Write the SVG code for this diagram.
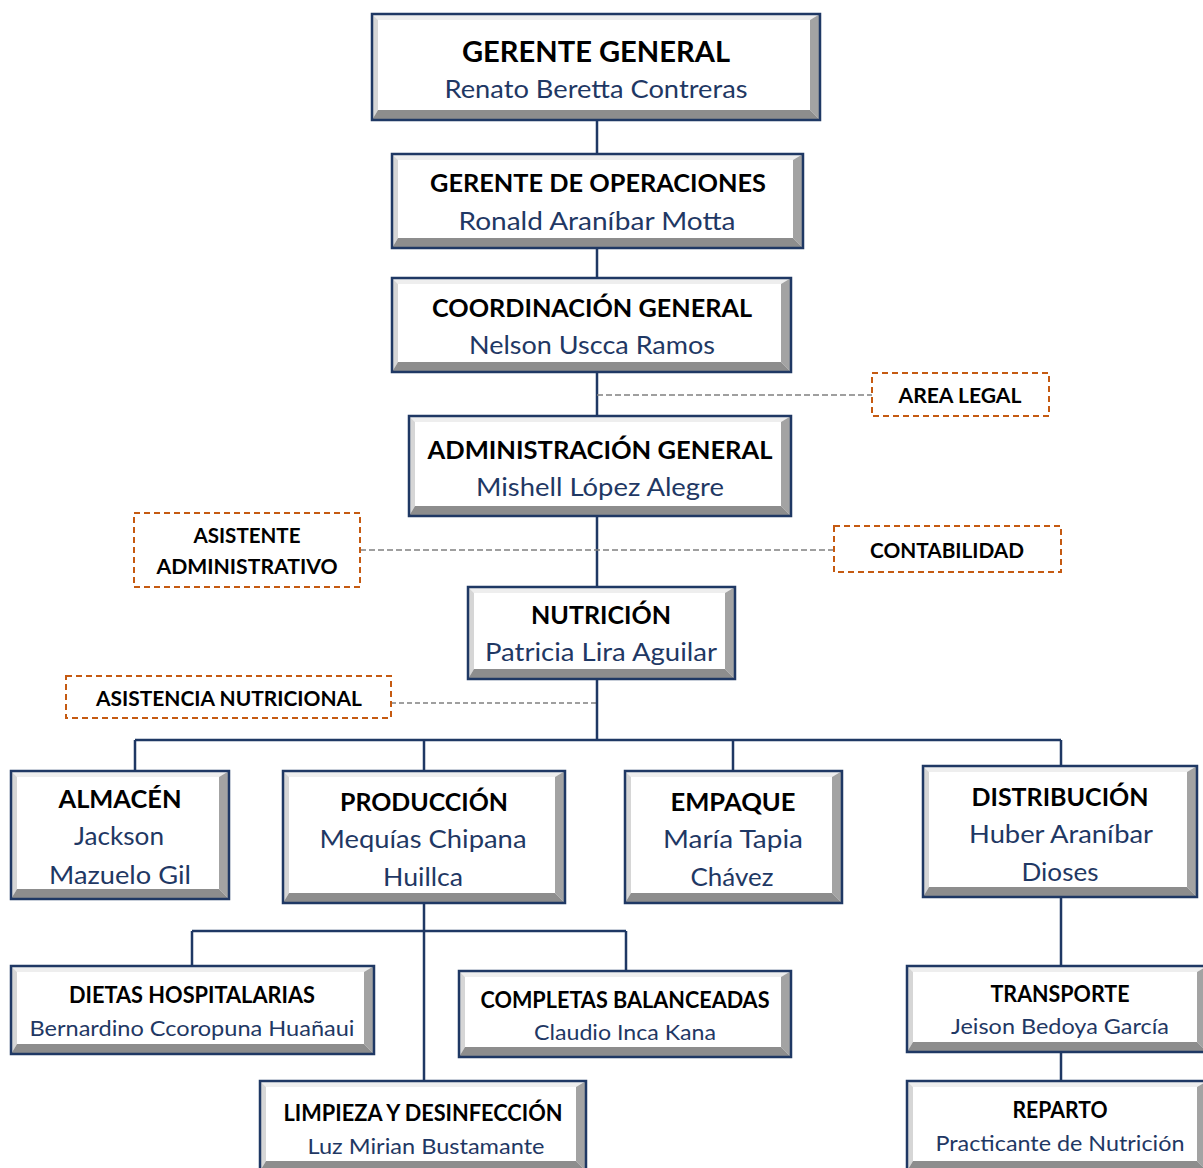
<svg xmlns="http://www.w3.org/2000/svg" width="1203" height="1168" viewBox="0 0 1203 1168">
<style>
.bg{fill:#ffffff}
.bt{fill:#eeeeee}
.bl{fill:#d6d6d6}
.br{fill:#a3a3a3}
.bb{fill:#8d8d8d}
.face{fill:#ffffff}
.frame{fill:none;stroke:#1F3864;stroke-width:2.5}
.dbox{fill:#ffffff;stroke:#C55A11;stroke-width:2;stroke-dasharray:6 4}
.line{fill:none;stroke:#1F3864;stroke-width:2.5}
.dash{fill:none;stroke:#808080;stroke-width:1.6;stroke-dasharray:6 3}
.dash2{fill:none;stroke:#404040;stroke-width:1.2;stroke-dasharray:5 3}
text{font-family:Lato,"Open Sans","Liberation Sans",sans-serif;text-anchor:middle}
.t{font-weight:bold;fill:#000000}
.s{fill:#1F3864}
</style>
<rect class="bg" x="0" y="0" width="1203" height="1168"/>
<g id="connectors">
<path class="line" d="M597 120V587M597 679V740M135 740H1061M135 740V771M424 740V771M733 740V771M1061 740V766M424 903V1081M192 931H626M192 931V966M626 931V971M1061 897V966M1061 1052V1081"/>
<path class="dash" d="M597 395H872M360 550H834"/>
<path class="dash2" d="M391 703H597"/>
</g>
<g id="gerente-general">
<polygon class="bt" points="372,14 820,14 810,20 378,20"/><polygon class="bl" points="372,14 378,20 378,110 372,120"/><polygon class="br" points="820,14 820,120 810,110 810,20"/><polygon class="bb" points="372,120 378,110 810,110 820,120"/><rect class="face" x="378" y="20" width="432" height="90"/><rect class="frame" x="372" y="14" width="448" height="106"/>
<text class="t" x="596" y="62" font-size="29" textLength="268" lengthAdjust="spacingAndGlyphs">GERENTE GENERAL</text>
<text class="s" x="596" y="98" font-size="25" textLength="303" lengthAdjust="spacingAndGlyphs">Renato Beretta Contreras</text>
</g>
<g id="gerente-operaciones">
<polygon class="bt" points="392,154 803,154 793,160 398,160"/><polygon class="bl" points="392,154 398,160 398,238 392,248"/><polygon class="br" points="803,154 803,248 793,238 793,160"/><polygon class="bb" points="392,248 398,238 793,238 803,248"/><rect class="face" x="398" y="160" width="395" height="78"/><rect class="frame" x="392" y="154" width="411" height="94"/>
<text class="t" x="598" y="192" font-size="25" textLength="336" lengthAdjust="spacingAndGlyphs">GERENTE DE OPERACIONES</text>
<text class="s" x="597" y="230" font-size="25" textLength="277" lengthAdjust="spacingAndGlyphs">Ronald Araníbar Motta</text>
</g>
<g id="coordinacion-general">
<polygon class="bt" points="392,278 791,278 781,284 398,284"/><polygon class="bl" points="392,278 398,284 398,362 392,372"/><polygon class="br" points="791,278 791,372 781,362 781,284"/><polygon class="bb" points="392,372 398,362 781,362 791,372"/><rect class="face" x="398" y="284" width="383" height="78"/><rect class="frame" x="392" y="278" width="399" height="94"/>
<text class="t" x="592" y="317" font-size="25" textLength="320" lengthAdjust="spacingAndGlyphs">COORDINACIÓN GENERAL</text>
<text class="s" x="592" y="354" font-size="25" textLength="246" lengthAdjust="spacingAndGlyphs">Nelson Uscca Ramos</text>
</g>
<g id="administracion-general">
<polygon class="bt" points="409,416 791,416 781,422 415,422"/><polygon class="bl" points="409,416 415,422 415,506 409,516"/><polygon class="br" points="791,416 791,516 781,506 781,422"/><polygon class="bb" points="409,516 415,506 781,506 791,516"/><rect class="face" x="415" y="422" width="366" height="84"/><rect class="frame" x="409" y="416" width="382" height="100"/>
<text class="t" x="600" y="459" font-size="25" textLength="345" lengthAdjust="spacingAndGlyphs">ADMINISTRACIÓN GENERAL</text>
<text class="s" x="600" y="496" font-size="25" textLength="248" lengthAdjust="spacingAndGlyphs">Mishell López Alegre</text>
</g>
<g id="nutricion">
<polygon class="bt" points="468,587 735,587 725,593 474,593"/><polygon class="bl" points="468,587 474,593 474,669 468,679"/><polygon class="br" points="735,587 735,679 725,669 725,593"/><polygon class="bb" points="468,679 474,669 725,669 735,679"/><rect class="face" x="474" y="593" width="251" height="76"/><rect class="frame" x="468" y="587" width="267" height="92"/>
<text class="t" x="601" y="624" font-size="25" textLength="140" lengthAdjust="spacingAndGlyphs">NUTRICIÓN</text>
<text class="s" x="601" y="661" font-size="25" textLength="232" lengthAdjust="spacingAndGlyphs">Patricia Lira Aguilar</text>
</g>
<g id="almacen">
<polygon class="bt" points="11,771 229,771 219,777 17,777"/><polygon class="bl" points="11,771 17,777 17,889 11,899"/><polygon class="br" points="229,771 229,899 219,889 219,777"/><polygon class="bb" points="11,899 17,889 219,889 229,899"/><rect class="face" x="17" y="777" width="202" height="112"/><rect class="frame" x="11" y="771" width="218" height="128"/>
<text class="t" x="120" y="808" font-size="25" textLength="123" lengthAdjust="spacingAndGlyphs">ALMACÉN</text>
<text class="s" x="119" y="845" font-size="25" textLength="90" lengthAdjust="spacingAndGlyphs">Jackson</text>
<text class="s" x="120" y="884" font-size="25" textLength="142" lengthAdjust="spacingAndGlyphs">Mazuelo Gil</text>
</g>
<g id="produccion">
<polygon class="bt" points="283,771 565,771 555,777 289,777"/><polygon class="bl" points="283,771 289,777 289,893 283,903"/><polygon class="br" points="565,771 565,903 555,893 555,777"/><polygon class="bb" points="283,903 289,893 555,893 565,903"/><rect class="face" x="289" y="777" width="266" height="116"/><rect class="frame" x="283" y="771" width="282" height="132"/>
<text class="t" x="424" y="811" font-size="25" textLength="168" lengthAdjust="spacingAndGlyphs">PRODUCCIÓN</text>
<text class="s" x="423" y="848" font-size="25" textLength="207" lengthAdjust="spacingAndGlyphs">Mequías Chipana</text>
<text class="s" x="423" y="886" font-size="25" textLength="80" lengthAdjust="spacingAndGlyphs">Huillca</text>
</g>
<g id="empaque">
<polygon class="bt" points="625,771 842,771 832,777 631,777"/><polygon class="bl" points="625,771 631,777 631,893 625,903"/><polygon class="br" points="842,771 842,903 832,893 832,777"/><polygon class="bb" points="625,903 631,893 832,893 842,903"/><rect class="face" x="631" y="777" width="201" height="116"/><rect class="frame" x="625" y="771" width="217" height="132"/>
<text class="t" x="733" y="811" font-size="25" textLength="125" lengthAdjust="spacingAndGlyphs">EMPAQUE</text>
<text class="s" x="733" y="848" font-size="25" textLength="140" lengthAdjust="spacingAndGlyphs">María Tapia</text>
<text class="s" x="732" y="886" font-size="25" textLength="83" lengthAdjust="spacingAndGlyphs">Chávez</text>
</g>
<g id="distribucion">
<polygon class="bt" points="923,766 1197,766 1187,772 929,772"/><polygon class="bl" points="923,766 929,772 929,887 923,897"/><polygon class="br" points="1197,766 1197,897 1187,887 1187,772"/><polygon class="bb" points="923,897 929,887 1187,887 1197,897"/><rect class="face" x="929" y="772" width="258" height="115"/><rect class="frame" x="923" y="766" width="274" height="131"/>
<text class="t" x="1060" y="806" font-size="25" textLength="177" lengthAdjust="spacingAndGlyphs">DISTRIBUCIÓN</text>
<text class="s" x="1061" y="843" font-size="25" textLength="184" lengthAdjust="spacingAndGlyphs">Huber Araníbar</text>
<text class="s" x="1060" y="881" font-size="25" textLength="77" lengthAdjust="spacingAndGlyphs">Dioses</text>
</g>
<g id="dietas-hospitalarias">
<polygon class="bt" points="11,966 374,966 364,972 17,972"/><polygon class="bl" points="11,966 17,972 17,1044 11,1054"/><polygon class="br" points="374,966 374,1054 364,1044 364,972"/><polygon class="bb" points="11,1054 17,1044 364,1044 374,1054"/><rect class="face" x="17" y="972" width="347" height="72"/><rect class="frame" x="11" y="966" width="363" height="88"/>
<text class="t" x="192" y="1003" font-size="22" textLength="246" lengthAdjust="spacingAndGlyphs">DIETAS HOSPITALARIAS</text>
<text class="s" x="192" y="1036" font-size="22" textLength="325" lengthAdjust="spacingAndGlyphs">Bernardino Ccoropuna Huañaui</text>
</g>
<g id="completas-balanceadas">
<polygon class="bt" points="459,971 791,971 781,977 465,977"/><polygon class="bl" points="459,971 465,977 465,1047 459,1057"/><polygon class="br" points="791,971 791,1057 781,1047 781,977"/><polygon class="bb" points="459,1057 465,1047 781,1047 791,1057"/><rect class="face" x="465" y="977" width="316" height="70"/><rect class="frame" x="459" y="971" width="332" height="86"/>
<text class="t" x="625" y="1008" font-size="22" textLength="289" lengthAdjust="spacingAndGlyphs">COMPLETAS BALANCEADAS</text>
<text class="s" x="625" y="1040" font-size="22" textLength="182" lengthAdjust="spacingAndGlyphs">Claudio Inca Kana</text>
</g>
<g id="limpieza-desinfeccion">
<polygon class="bt" points="260,1081 586,1081 576,1087 266,1087"/><polygon class="bl" points="260,1081 266,1087 266,1161 260,1171"/><polygon class="br" points="586,1081 586,1171 576,1161 576,1087"/><polygon class="bb" points="260,1171 266,1161 576,1161 586,1171"/><rect class="face" x="266" y="1087" width="310" height="74"/><rect class="frame" x="260" y="1081" width="326" height="90"/>
<text class="t" x="423" y="1121" font-size="22" textLength="279" lengthAdjust="spacingAndGlyphs">LIMPIEZA Y DESINFECCIÓN</text>
<text class="s" x="426" y="1154" font-size="22" textLength="237" lengthAdjust="spacingAndGlyphs">Luz Mirian Bustamante</text>
</g>
<g id="transporte">
<polygon class="bt" points="907,966 1207,966 1197,972 913,972"/><polygon class="bl" points="907,966 913,972 913,1042 907,1052"/><polygon class="br" points="1207,966 1207,1052 1197,1042 1197,972"/><polygon class="bb" points="907,1052 913,1042 1197,1042 1207,1052"/><rect class="face" x="913" y="972" width="284" height="70"/><rect class="frame" x="907" y="966" width="300" height="86"/>
<text class="t" x="1060" y="1002" font-size="22" textLength="139" lengthAdjust="spacingAndGlyphs">TRANSPORTE</text>
<text class="s" x="1060" y="1034" font-size="22" textLength="218" lengthAdjust="spacingAndGlyphs">Jeison Bedoya García</text>
</g>
<g id="reparto">
<polygon class="bt" points="907,1081 1207,1081 1197,1087 913,1087"/><polygon class="bl" points="907,1081 913,1087 913,1161 907,1171"/><polygon class="br" points="1207,1081 1207,1171 1197,1161 1197,1087"/><polygon class="bb" points="907,1171 913,1161 1197,1161 1207,1171"/><rect class="face" x="913" y="1087" width="284" height="74"/><rect class="frame" x="907" y="1081" width="300" height="90"/>
<text class="t" x="1060" y="1118" font-size="22" textLength="95" lengthAdjust="spacingAndGlyphs">REPARTO</text>
<text class="s" x="1060" y="1151" font-size="22" textLength="249" lengthAdjust="spacingAndGlyphs">Practicante de Nutrición</text>
</g>
<g id="area-legal">
<rect class="dbox" x="872" y="373" width="177" height="43"/>
<text class="t" x="960" y="403" font-size="21" textLength="123" lengthAdjust="spacingAndGlyphs">AREA LEGAL</text>
</g>
<g id="asistente-administrativo">
<rect class="dbox" x="134" y="513" width="226" height="74"/>
<text class="t" x="247" y="543" font-size="21" textLength="107" lengthAdjust="spacingAndGlyphs">ASISTENTE</text>
<text class="t" x="247" y="574" font-size="21" textLength="181" lengthAdjust="spacingAndGlyphs">ADMINISTRATIVO</text>
</g>
<g id="contabilidad">
<rect class="dbox" x="834" y="526" width="227" height="46"/>
<text class="t" x="947" y="558" font-size="21" textLength="154" lengthAdjust="spacingAndGlyphs">CONTABILIDAD</text>
</g>
<g id="asistencia-nutricional">
<rect class="dbox" x="66" y="676" width="325" height="42"/>
<text class="t" x="229" y="706" font-size="21" textLength="266" lengthAdjust="spacingAndGlyphs">ASISTENCIA NUTRICIONAL</text>
</g>
</svg>
